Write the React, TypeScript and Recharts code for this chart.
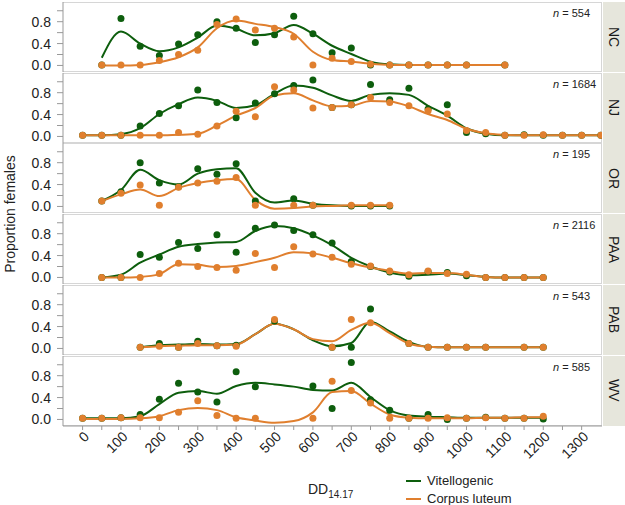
import React from 'react';
import { ComposedChart, Line, Scatter, XAxis, YAxis } from 'recharts';

// Facet panels: proportion of females by degree-days, one panel per site
const SITES = ['NC', 'NJ', 'OR', 'PAA', 'PAB', 'WV'];
const COUNTS = [554, 1684, 195, 2116, 543, 585];

const X_TICKS = [0, 50, 100, 150, 200, 250, 300, 350, 400, 450, 500, 550, 600, 650,
  700, 750, 800, 850, 900, 950, 1000, 1050, 1100, 1150, 1200, 1250, 1300];
const Y_TICKS = [0, 0.2, 0.4, 0.6, 0.8, 1.0];

// NC
const NC_PT_X = [50, 100, 150, 200, 250, 300, 350, 400, 450, 500, 550, 600, 650, 700, 750, 800, 850, 900, 950, 1000, 1100];
const NC_VIT = [0.01, 0.86, 0.35, 0.18, 0.39, 0.56, 0.80, 0.68, 0.42, 0.56, 0.90, 0.58, 0.23, 0.32, 0.01, 0.01, 0.01, 0.01, 0.01, 0.01, 0.01];
const NC_COR = [0.01, 0.01, 0.01, 0.09, 0.20, 0.28, 0.75, 0.85, 0.65, 0.68, 0.52, 0.01, 0.13, 0.07, 0.02, 0.01, 0.01, 0.01, 0.01, 0.01, 0.01];
const NC_FIT_X = [50, 100, 150, 200, 250, 300, 350, 400, 450, 500, 550, 600, 650, 700, 750, 800, 850, 900, 950, 1000, 1100];
const NC_VIT_FIT = [0.14, 0.62, 0.40, 0.26, 0.33, 0.51, 0.73, 0.67, 0.55, 0.59, 0.74, 0.58, 0.36, 0.21, 0.07, 0.02, 0.01, 0.01, 0.01, 0.01, 0.01];
const NC_COR_FIT = [0.0, 0.0, 0.01, 0.06, 0.15, 0.33, 0.68, 0.82, 0.76, 0.70, 0.58, 0.25, 0.10, 0.07, 0.03, 0.01, 0.01, 0.01, 0.01, 0.01, 0.01];

// NJ
const NJ_PT_X = [0, 50, 100, 150, 200, 250, 300, 350, 400, 450, 500, 550, 600, 650, 700, 750, 800, 850, 900, 950, 1000, 1050, 1100, 1150, 1200, 1250, 1300, 1350];
const NJ_VIT = [0.02, 0.02, 0.02, 0.19, 0.42, 0.56, 0.85, 0.62, 0.34, 0.61, 0.78, 0.93, 1.03, 0.53, 0.58, 0.95, 0.67, 0.88, 0.50, 0.58, 0.07, 0.05, 0.02, 0.03, 0.02, 0.02, 0.02, 0.02];
const NJ_COR = [0.02, 0.02, 0.02, 0.02, 0.02, 0.07, 0.04, 0.19, 0.46, 0.36, 0.91, 0.85, 0.52, 0.53, 0.58, 0.71, 0.62, 0.56, 0.47, 0.41, 0.11, 0.07, 0.02, 0.02, 0.03, 0.02, 0.02, 0.02];
const NJ_FIT_X = NJ_PT_X;
const NJ_VIT_FIT = [0.02, 0.02, 0.04, 0.15, 0.41, 0.59, 0.71, 0.65, 0.52, 0.57, 0.78, 0.93, 0.89, 0.75, 0.65, 0.76, 0.79, 0.76, 0.56, 0.38, 0.15, 0.05, 0.02, 0.02, 0.02, 0.02, 0.02, 0.02];
const NJ_COR_FIT = [0.02, 0.02, 0.02, 0.02, 0.02, 0.03, 0.05, 0.20, 0.38, 0.52, 0.75, 0.79, 0.66, 0.55, 0.56, 0.65, 0.64, 0.55, 0.41, 0.30, 0.14, 0.06, 0.03, 0.02, 0.02, 0.02, 0.02, 0.02];

// OR
const OR_PT_X = [50, 100, 150, 200, 250, 300, 350, 400, 450, 550, 600, 700, 750, 800];
const OR_VIT = [0.10, 0.27, 0.80, 0.43, 0.36, 0.69, 0.59, 0.78, 0.10, 0.14, 0.02, 0.01, 0.01, 0.01];
const OR_COR = [0.10, 0.24, 0.39, 0.02, 0.35, 0.43, 0.46, 0.53, 0.02, 0.02, 0.02, 0.02, 0.02, 0.02];
const OR_FIT_X = [50, 100, 150, 200, 250, 300, 350, 400, 450, 500, 550, 600, 650, 700, 750, 800];
const OR_VIT_FIT = [0.10, 0.30, 0.67, 0.48, 0.40, 0.60, 0.68, 0.70, 0.25, 0.07, 0.11, 0.05, 0.02, 0.01, 0.01, 0.01];
const OR_COR_FIT = [0.10, 0.22, 0.31, 0.19, 0.34, 0.43, 0.48, 0.50, 0.12, -0.04, -0.03, 0.0, 0.01, 0.02, 0.02, 0.02];

// PAA
const PAA_PT_X = [50, 100, 150, 200, 250, 300, 350, 400, 450, 500, 550, 600, 650, 700, 750, 800, 850, 900, 950, 1000, 1050, 1100, 1150, 1200];
const PAA_VIT = [0.0, 0.0, 0.42, 0.37, 0.64, 0.53, 0.78, 0.46, 0.90, 0.96, 0.86, 0.78, 0.63, 0.29, 0.20, 0.10, 0.02, 0.11, 0.09, 0.03, 0.0, 0.0, 0.0, 0.0];
const PAA_COR = [0.0, 0.0, 0.0, 0.07, 0.26, 0.20, 0.18, 0.13, 0.44, 0.18, 0.56, 0.43, 0.37, 0.24, 0.21, 0.12, 0.05, 0.12, 0.07, 0.06, 0.0, 0.0, 0.0, 0.0];
const PAA_FIT_X = PAA_PT_X;
const PAA_VIT_FIT = [0.0, 0.05, 0.27, 0.42, 0.56, 0.61, 0.64, 0.65, 0.85, 0.94, 0.90, 0.77, 0.59, 0.36, 0.20, 0.09, 0.04, 0.05, 0.07, 0.04, 0.01, 0.0, 0.0, 0.0];
const PAA_COR_FIT = [0.0, 0.0, 0.01, 0.06, 0.24, 0.23, 0.19, 0.21, 0.28, 0.36, 0.46, 0.44, 0.36, 0.26, 0.18, 0.12, 0.07, 0.08, 0.08, 0.05, 0.01, 0.0, 0.0, 0.0];

// PAB
const PAB_PT_X = [150, 200, 250, 300, 350, 400, 500, 650, 700, 750, 850, 900, 950, 1000, 1050, 1150, 1200];
const PAB_VIT = [0.02, 0.09, 0.02, 0.13, 0.05, 0.06, 0.50, 0.02, 0.02, 0.72, 0.09, 0.02, 0.02, 0.02, 0.02, 0.02, 0.02];
const PAB_COR = [0.02, 0.04, 0.02, 0.09, 0.05, 0.04, 0.53, 0.02, 0.53, 0.47, 0.09, 0.02, 0.02, 0.02, 0.02, 0.02, 0.02];
const PAB_FIT_X = [150, 200, 250, 300, 350, 400, 450, 500, 550, 600, 650, 700, 750, 800, 850, 900, 950, 1000, 1050, 1100, 1150, 1200];
const PAB_VIT_FIT = [0.02, 0.06, 0.07, 0.08, 0.07, 0.08, 0.26, 0.45, 0.35, 0.15, 0.04, 0.10, 0.49, 0.31, 0.12, 0.03, 0.02, 0.02, 0.02, 0.02, 0.02, 0.02];
const PAB_COR_FIT = [0.02, 0.04, 0.05, 0.06, 0.06, 0.07, 0.26, 0.45, 0.35, 0.17, 0.13, 0.34, 0.47, 0.28, 0.09, 0.03, 0.02, 0.02, 0.02, 0.02, 0.02, 0.02];

// WV
const WV_PT_X = [0, 50, 100, 150, 200, 250, 300, 350, 400, 450, 600, 650, 700, 750, 800, 850, 900, 950, 1000, 1050, 1100, 1150, 1200];
const WV_VIT = [0.02, 0.02, 0.03, 0.09, 0.37, 0.66, 0.50, 0.32, 0.87, 0.60, 0.61, 0.20, 1.04, 0.36, 0.17, 0.02, 0.09, 0.0, 0.02, 0.04, 0.02, 0.02, 0.01];
const WV_COR = [0.02, 0.02, 0.03, 0.03, 0.03, 0.13, 0.34, 0.07, 0.02, 0.02, 0.02, 0.70, 0.53, 0.30, 0.02, 0.02, 0.02, 0.03, 0.02, 0.03, 0.02, 0.02, 0.06];
const WV_FIT_X = [0, 50, 100, 150, 200, 250, 300, 350, 400, 450, 500, 550, 600, 650, 700, 750, 800, 850, 900, 950, 1000, 1050, 1100, 1150, 1200];
const WV_VIT_FIT = [0.02, 0.02, 0.02, 0.06, 0.28, 0.49, 0.52, 0.47, 0.61, 0.67, 0.64, 0.60, 0.54, 0.53, 0.67, 0.41, 0.17, 0.07, 0.05, 0.04, 0.03, 0.03, 0.03, 0.03, 0.03];
const WV_COR_FIT = [0.01, 0.01, 0.01, 0.02, 0.06, 0.17, 0.21, 0.17, 0.04, -0.02, -0.06, -0.03, 0.13, 0.50, 0.52, 0.29, 0.09, 0.03, 0.02, 0.02, 0.02, 0.03, 0.03, 0.04, 0.04];

const GREEN = '#0d5e0d';
const ORANGE = '#e07f2e';
const FONT = '"Liberation Sans", Arial, sans-serif';

const pairs = (xs: number[], ys: number[]) => xs.map((x, i) => ({ x, y: ys[i] }));

const PANELS = [
  { pts: NC_PT_X, vit: NC_VIT, cor: NC_COR, fx: NC_FIT_X, vf: NC_VIT_FIT, cf: NC_COR_FIT },
  { pts: NJ_PT_X, vit: NJ_VIT, cor: NJ_COR, fx: NJ_FIT_X, vf: NJ_VIT_FIT, cf: NJ_COR_FIT },
  { pts: OR_PT_X, vit: OR_VIT, cor: OR_COR, fx: OR_FIT_X, vf: OR_VIT_FIT, cf: OR_COR_FIT },
  { pts: PAA_PT_X, vit: PAA_VIT, cor: PAA_COR, fx: PAA_FIT_X, vf: PAA_VIT_FIT, cf: PAA_COR_FIT },
  { pts: PAB_PT_X, vit: PAB_VIT, cor: PAB_COR, fx: PAB_FIT_X, vf: PAB_VIT_FIT, cf: PAB_COR_FIT },
  { pts: WV_PT_X, vit: WV_VIT, cor: WV_COR, fx: WV_FIT_X, vf: WV_VIT_FIT, cf: WV_COR_FIT },
];

const PANEL_H = 70;
const STEP = 70.7;
const AXIS_H = 55;

function XTick(props: any) {
  const { x, y, payload } = props;
  if (payload.value % 100 !== 0) return <g />;
  return (
    <text x={x + 4} y={y + 2} transform={`rotate(-45 ${x + 4} ${y + 2})`} textAnchor="end"
      dominantBaseline="central" fill="#222" fontSize={14} fontFamily={FONT}>
      {payload.value}
    </text>
  );
}

const yFmt = (v: number) => (Math.abs(v) < 1e-9 || Math.abs(v - 0.4) < 1e-9 || Math.abs(v - 0.8) < 1e-9 ? v.toFixed(1) : '');

function Panel({ idx }: { idx: number }) {
  const p = PANELS[idx];
  const last = idx === PANELS.length - 1;
  return (
    <ComposedChart width={625} height={PANEL_H + (last ? AXIS_H : 0)}
      margin={{ top: 0, right: 23, bottom: 0, left: 0 }}>
      <XAxis type="number" dataKey="x" domain={[-51, 1353]} allowDataOverflow ticks={X_TICKS}
        interval={0} hide={!last} height={AXIS_H} tick={<XTick />} tickSize={4}
        axisLine={{ stroke: '#999' }} tickLine={{ stroke: '#999' }} />
      <YAxis type="number" dataKey="y" domain={[-0.12, 1.16]} allowDataOverflow ticks={Y_TICKS}
        interval={0} width={63} tickFormatter={yFmt} tickSize={6} tickMargin={6}
        tick={{ fill: '#222', fontSize: 14, fontFamily: FONT }}
        axisLine={{ stroke: '#999' }} tickLine={{ stroke: '#999' }} />
      <Line data={pairs(p.fx, p.vf)} dataKey="y" type="monotone" stroke={GREEN} strokeWidth={2}
        dot={false} isAnimationActive={false} />
      <Line data={pairs(p.fx, p.cf)} dataKey="y" type="monotone" stroke={ORANGE} strokeWidth={2}
        dot={false} isAnimationActive={false} />
      <Scatter data={pairs(p.pts, p.vit)} dataKey="y" fill={GREEN} isAnimationActive={false}
        shape={(s: any) => <circle cx={s.cx} cy={s.cy} r={3.5} fill={GREEN} />} />
      <Scatter data={pairs(p.pts, p.cor)} dataKey="y" fill={ORANGE} isAnimationActive={false}
        shape={(s: any) => <circle cx={s.cx} cy={s.cy} r={3.5} fill={ORANGE} />} />
    </ComposedChart>
  );
}

export default function App() {
  return (
    <div style={{ position: 'absolute', left: 0, top: 0, width: 625, height: 505, background: '#fff', fontFamily: FONT, overflow: 'hidden' }}>
      {SITES.map((site, i) => {
        const top = 2 + i * STEP;
        return (
          <React.Fragment key={site}>
            <div style={{ position: 'absolute', left: 63, top, width: 539, height: PANEL_H, boxSizing: 'border-box', borderTop: '1px solid #d6d6d6', borderRight: '1px solid #d6d6d6', borderBottom: '1px solid #d6d6d6' }} />
            <div style={{ position: 'absolute', left: 0, top }}>
              <Panel idx={i} />
            </div>
            <div style={{ position: 'absolute', left: 553, top: top + 5, fontSize: 11, color: '#222', whiteSpace: 'nowrap' }}>
              <i>n</i> = {COUNTS[i]}
            </div>
            <div style={{ position: 'absolute', left: 603, top, width: 22, height: PANEL_H, background: '#e6e6dc', display: 'flex', alignItems: 'center', justifyContent: 'center' }}>
              <span style={{ writingMode: 'vertical-rl', fontSize: 14, color: '#1a1a1a' }}>{site}</span>
            </div>
          </React.Fragment>
        );
      })}
      <div style={{ position: 'absolute', left: 10, top: 214, width: 0, height: 0 }}>
        <div style={{ position: 'absolute', transform: 'translate(-50%, -50%) rotate(-90deg)', whiteSpace: 'nowrap', fontSize: 14, color: '#222' }}>
          Proportion females
        </div>
      </div>
      <div style={{ position: 'absolute', left: 308, top: 481, fontSize: 14, color: '#222', whiteSpace: 'nowrap' }}>
        DD<sub style={{ fontSize: 10 }}>14.17</sub>
      </div>
      <div style={{ position: 'absolute', left: 406, top: 472, fontSize: 13, color: '#222', lineHeight: '18px' }}>
        <div style={{ display: 'flex', alignItems: 'center' }}>
          <span style={{ display: 'inline-block', width: 15, height: 2, background: GREEN, marginRight: 6 }} />Vitellogenic
        </div>
        <div style={{ display: 'flex', alignItems: 'center' }}>
          <span style={{ display: 'inline-block', width: 15, height: 2, background: ORANGE, marginRight: 6 }} />Corpus luteum
        </div>
      </div>
    </div>
  );
}
